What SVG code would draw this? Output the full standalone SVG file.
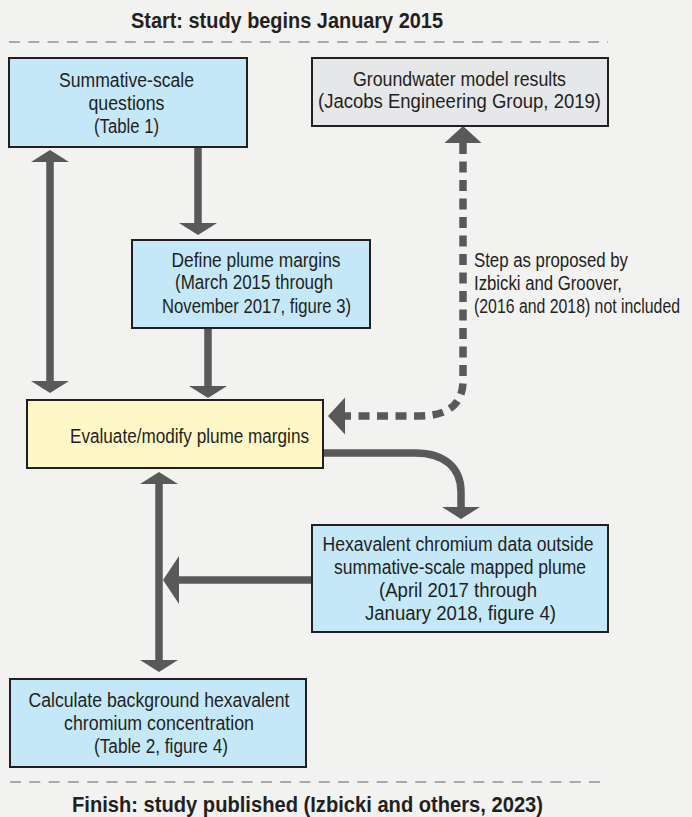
<svg xmlns="http://www.w3.org/2000/svg" width="692" height="817" viewBox="0 0 692 817">
  <style>
    .bg { fill: #f2f2f1; }
    .box { stroke: #231f20; stroke-width: 2; }
    .blue { fill: #c5e8f8; }
    .gray { fill: #e6e7e8; }
    .yellow { fill: #fff8c6; }
    text { font-family: "Liberation Sans Narrow", "Liberation Sans", Arial, sans-serif; fill: #231f20; }
    .t { font-size: 19.5px; }
    .c { text-anchor: middle; }
    .title { font-size: 22px; font-weight: bold; }
    .sep { stroke: #a7a9ac; stroke-width: 2; stroke-dasharray: 11 8.3; fill: none; }
    .conn { stroke: #58595b; stroke-width: 7.5; fill: none; }
    .dash { stroke-dasharray: 11 7.5; }
  </style>
  <defs>
    <marker id="ah" markerUnits="userSpaceOnUse" orient="auto-start-reverse" markerWidth="20" markerHeight="50" refX="0" refY="0" viewBox="0 -25 20 50" overflow="visible">
      <path d="M0,-19 L12,0 L0,19 Z" fill="#58595b"/>
    </marker>
    <marker id="ahd" markerUnits="userSpaceOnUse" orient="auto-start-reverse" markerWidth="20" markerHeight="50" refX="0" refY="0" viewBox="0 -25 20 50" overflow="visible">
      <path d="M0,-18.5 L17,0 L0,18.5 Z" fill="#58595b"/>
    </marker>
    <marker id="ahl" markerUnits="userSpaceOnUse" orient="auto-start-reverse" markerWidth="20" markerHeight="50" refX="0" refY="0" viewBox="0 -25 20 50" overflow="visible">
      <path d="M0,-24 L16,0 L0,24 Z" fill="#58595b"/>
    </marker>
  </defs>
  <rect class="bg" x="0" y="0" width="692" height="817"/>

  <g id="header">
    <text class="title" x="131" y="28" textLength="312" lengthAdjust="spacingAndGlyphs">Start: study begins January 2015</text>
    <line class="sep" x1="9" y1="42" x2="608" y2="42"/>
  </g>
  <g id="footer">
    <line class="sep" x1="10" y1="782" x2="608" y2="782"/>
    <text class="title" x="72" y="812" textLength="471" lengthAdjust="spacingAndGlyphs">Finish: study published (Izbicki and others, 2023)</text>
  </g>

  <g id="connectors">
    <path class="conn" d="M50,162 V381" marker-start="url(#ah)" marker-end="url(#ah)"/>
    <path class="conn" d="M198,148 V223" marker-end="url(#ah)"/>
    <path class="conn" d="M208,329 V386" marker-end="url(#ah)"/>
    <path class="conn dash" d="M463,143 V381 C463,402 450,416 420,416 H345" marker-start="url(#ahd)" marker-end="url(#ahd)"/>
    <path class="conn" d="M323,453 H415 C445,453 461,468 461,492 V507" marker-end="url(#ah)"/>
    <path class="conn" d="M312,580 H179" marker-end="url(#ahl)"/>
    <path class="conn" d="M159,484 V660" marker-start="url(#ah)" marker-end="url(#ah)"/>
  </g>

  <g id="summative">
    <rect class="box blue" x="9" y="58" width="238" height="89"/>
    <text class="t c" x="126.5" y="87" textLength="135" lengthAdjust="spacingAndGlyphs">Summative-scale</text>
    <text class="t c" x="126.5" y="110" textLength="76" lengthAdjust="spacingAndGlyphs">questions</text>
    <text class="t c" x="126.5" y="133" textLength="65" lengthAdjust="spacingAndGlyphs">(Table 1)</text>
  </g>

  <g id="groundwater">
    <rect class="box gray" x="312" y="58" width="296" height="68"/>
    <text class="t c" x="459.5" y="86" textLength="213" lengthAdjust="spacingAndGlyphs">Groundwater model results</text>
    <text class="t c" x="459.5" y="108" textLength="283" lengthAdjust="spacingAndGlyphs">(Jacobs Engineering Group, 2019)</text>
  </g>

  <g id="define">
    <rect class="box blue" x="132" y="240" width="238" height="88"/>
    <text class="t c" x="256" y="267" textLength="169" lengthAdjust="spacingAndGlyphs">Define plume margins</text>
    <text class="t c" x="254" y="289" textLength="158" lengthAdjust="spacingAndGlyphs">(March 2015 through</text>
    <text class="t c" x="256.5" y="313" textLength="189" lengthAdjust="spacingAndGlyphs">November 2017, figure 3)</text>
  </g>

  <g id="step-label">
    <text class="t" x="474" y="267" textLength="154" lengthAdjust="spacingAndGlyphs">Step as proposed by</text>
    <text class="t" x="474" y="290" textLength="148" lengthAdjust="spacingAndGlyphs">Izbicki and Groover,</text>
    <text class="t" x="474" y="313" textLength="206" lengthAdjust="spacingAndGlyphs">(2016 and 2018) not included</text>
  </g>

  <g id="evaluate">
    <rect class="box yellow" x="27" y="400" width="296" height="68"/>
    <text class="t" x="70" y="443" textLength="239" lengthAdjust="spacingAndGlyphs">Evaluate/modify plume margins</text>
  </g>

  <g id="hexavalent">
    <rect class="box blue" x="312" y="525" width="296" height="107"/>
    <text class="t c" x="458" y="551" textLength="271" lengthAdjust="spacingAndGlyphs">Hexavalent chromium data outside</text>
    <text class="t c" x="460" y="574" textLength="252" lengthAdjust="spacingAndGlyphs">summative-scale mapped plume</text>
    <text class="t c" x="458" y="597" textLength="158" lengthAdjust="spacingAndGlyphs">(April 2017 through</text>
    <text class="t c" x="460.5" y="620" textLength="191" lengthAdjust="spacingAndGlyphs">January 2018, figure 4)</text>
  </g>

  <g id="calculate">
    <rect class="box blue" x="10" y="679" width="296" height="88"/>
    <text class="t c" x="159" y="707" textLength="261" lengthAdjust="spacingAndGlyphs">Calculate background hexavalent</text>
    <text class="t c" x="159" y="730" textLength="190" lengthAdjust="spacingAndGlyphs">chromium concentration</text>
    <text class="t c" x="161" y="753" textLength="134" lengthAdjust="spacingAndGlyphs">(Table 2, figure 4)</text>
  </g>
</svg>
